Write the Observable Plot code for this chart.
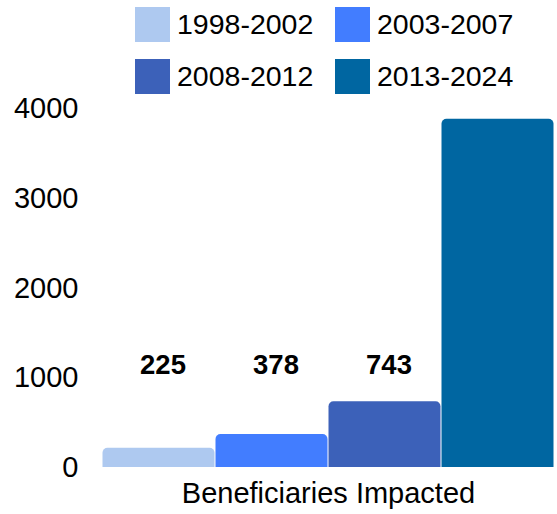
<!DOCTYPE html>
<html>
<head>
<meta charset="utf-8">
<script src="https://cdn.jsdelivr.net/npm/d3@7"></script>
<script src="https://cdn.jsdelivr.net/npm/@observablehq/plot@0.6"></script>
<style>
  html, body { margin: 0; padding: 0; background: #fff; }
  body { width: 557px; height: 514px; overflow: hidden; font-family: "Liberation Sans", Arial, sans-serif; }
  #legend { height: 80px; padding-top: 7px; padding-left: 135px; display: grid; grid-template-columns: 200px auto; row-gap: 17px; align-content: start; }
  .item { display: flex; align-items: center; height: 35px; font-size: 28.5px; color: #000; white-space: nowrap; }
  .sw { width: 35px; height: 35px; margin-right: 7px; flex: none; }
</style>
</head>
<body>
<div id="legend"></div>
<div id="chart"></div>
<script>
const category = "Beneficiaries Impacted";
const periods = ["1998-2002", "2003-2007", "2008-2012", "2013-2024"];
const values = [225, 378, 743, 3885];
const labelledPeriods = ["1998-2002", "2003-2007", "2008-2012"];
const labelValues = [225, 378, 743];
const colors = ["#aec9f0", "#427dff", "#3c61b9", "#0066a1"];
const yTicks = [0, 1000, 2000, 3000, 4000];
const labelLevel = 1140;

const data = periods.map((p, i) => ({category, period: p, value: values[i]}));
const labels = labelledPeriods.map((p, i) => ({category, period: p, value: labelValues[i]}));

const legend = document.getElementById("legend");
periods.forEach((p, i) => {
  const it = document.createElement("div");
  it.className = "item";
  const sw = document.createElement("span");
  sw.className = "sw";
  sw.style.background = colors[i];
  it.appendChild(sw);
  it.appendChild(document.createTextNode(p));
  legend.appendChild(it);
});

const chart = Plot.plot({
  width: 557,
  height: 427,
  marginLeft: 101,
  marginRight: 2,
  marginTop: 21,
  marginBottom: 46.5,
  style: {fontFamily: "Liberation Sans, Arial, sans-serif", color: "#000", background: "#fff", overflow: "visible"},
  fx: {domain: [category], padding: 0, label: null},
  x: {domain: periods, padding: 0, axis: null},
  y: {domain: [0, 4000], ticks: yTicks, label: null},
  color: {domain: periods, range: colors},
  marks: [
    Plot.barY(data, {fx: "category", x: "period", y: "value", fill: "period", inset: 0.5, ry1: 5}),
    Plot.text(labels, {fx: "category", x: "period", y: () => labelLevel, text: d => String(d.value), fontSize: 27.5, fontWeight: "bold", fill: "#000", dx: 4}),
    Plot.axisY({ticks: yTicks, tickSize: 0, tickPadding: 23, fontSize: 29, label: null, tickFormat: d => String(d)}),
    Plot.axisFx({anchor: "bottom", tickSize: 0, tickPadding: 14, fontSize: 29, label: null})
  ]
});
document.getElementById("chart").appendChild(chart);
</script>
</body>
</html>
